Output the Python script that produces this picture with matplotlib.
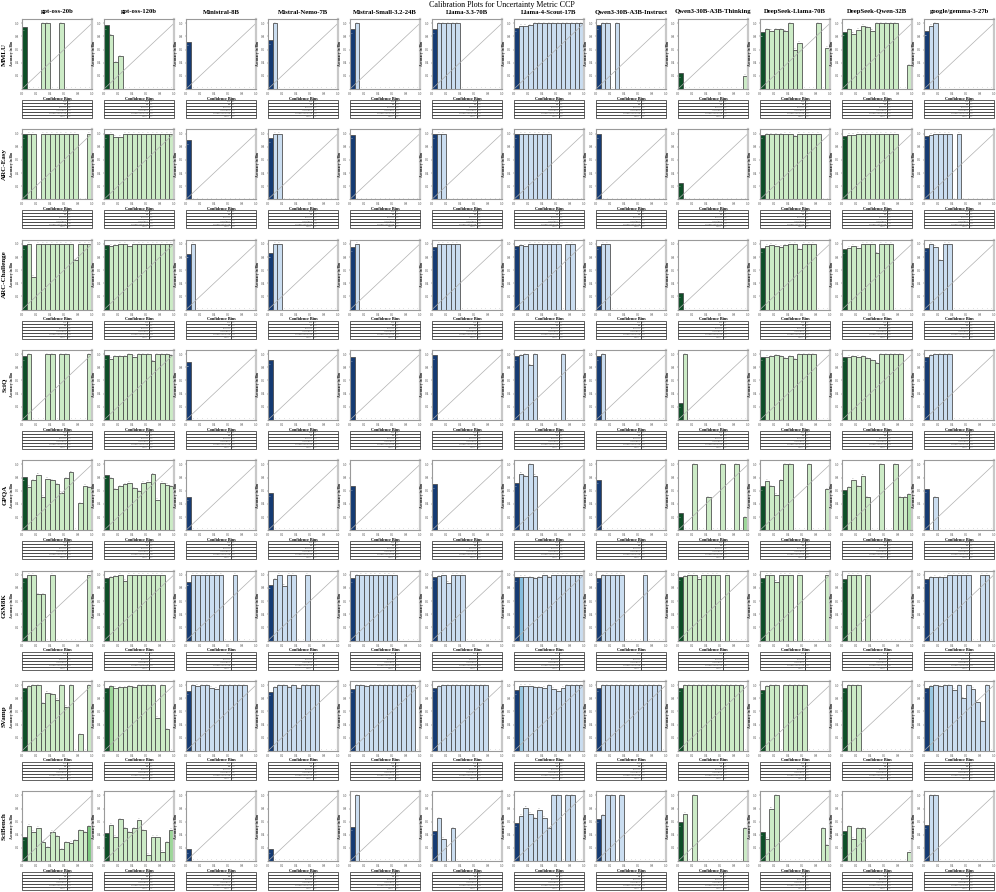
import numpy as np
import matplotlib
matplotlib.use("Agg")
import matplotlib.pyplot as plt
from matplotlib import cm

plt.rcParams['font.family'] = ['Liberation Serif', 'DejaVu Serif']

N = None

MODELS = ["gpt-oss-20b", "gpt-oss-120b", "Ministral-8B", "Mistral-Nemo-7B",
          "Mistral-Small-3.2-24B", "Llama-3.3-70B", "Llama-4-Scout-17B",
          "Qwen3-30B-A3B-Instruct", "Qwen3-30B-A3B-Thinking", "DeepSeek-Llama-70B",
          "DeepSeek-Qwen-32B", "google/gemma-3-27b"]
GREEN_MODELS = ["gpt-oss-20b", "gpt-oss-120b", "Qwen3-30B-A3B-Thinking",
                "DeepSeek-Llama-70B", "DeepSeek-Qwen-32B"]
DATASETS = ["MMLU", "ARC-Easy", "ARC-Challenge", "SciQ", "GPQA", "GSM8K", "SVamp", "SciBench"]

# accuracy per confidence bin (15 bins), None = empty bin
MMLU = [
    [0.95, N, N, N, 1.0, 1.0, N, N, 1.0, N, N, N, N, N, N],
    [0.97, 0.82, 0.41, 0.50, N, N, N, N, N, N, N, N, N, N, N],
    [0.72] + [N] * 14,
    [0.74, 1.0] + [N] * 13,
    [0.91, 1.0] + [N] * 13,
    [0.91, 1, 1, 1, 1, 1] + [N] * 9,
    [0.93, 0.96, 0.96, 0.97] + [1.0] * 11,
    [0.97, 1.0, 1.0, N, 1.0] + [N] * 10,
    [0.24] + [N] * 13 + [0.20],
    [0.86, 0.91, 0.89, 0.91, 0.91, 0.88, 1.0, 0.60, 0.70, N, N, N, 1.0, N, 0.63],
    [0.87, 0.91, 0.84, 0.90, 0.96, 0.94, 0.89, 1, 1, 1, 1, 1, N, N, 0.36],
    [0.88, 0.96, 1.0] + [N] * 12,
]
ARC_EASY = [
    [0.99, 1, 1, N, 1, 1, 1, 1, 1, 1, 1, 1, N, N, 1],
    [0.99, 1.0, 0.95, 0.95] + [1.0] * 11,
    [0.90] + [N] * 14,
    [0.93, 1, 1] + [N] * 12,
    [0.98] + [N] * 14,
    [0.99, 1, 1] + [N] * 12,
    [0.99] + [1.0] * 7 + [N] * 7,
    [0.99] + [N] * 14,
    [0.25] + [N] * 14,
    [0.98, 0.99, 0.99, 0.99, 0.99, 1, 1, 0.96, 1, 1, 1, 1, 1, N, N],
    [0.97, 0.98, 0.98] + [1.0] * 9 + [N] * 3,
    [0.97, 0.98, 1, 1, 1, 1, N, 1] + [N] * 7,
]
ARC_CHALLENGE = [
    [0.98, 1.0, 0.50] + [1.0] * 8 + [0.75, 1, 1, 1],
    [0.98, 0.97, 0.98, 1, 1, 0.97] + [1.0] * 9,
    [0.85, 1.0] + [N] * 13,
    [0.86, 1, 1] + [N] * 12,
    [0.95, 1] + [N] * 13,
    [0.96, 1, 1, 1, 1, 1] + [N] * 9,
    [0.97, 0.98, 0.97, 1, 1, 1, 1, 1, 1, 1, N, 1, 1, N, N],
    [0.97, 1, 1] + [N] * 12,
    [0.25] + [N] * 14,
    [0.93, 0.97, 0.99, 0.97, 0.96, 0.98, 1, 1, 0.92, 1, 1, 1, N, N, N],
    [0.92, 0.94, 0.97, 0.94, 1, 1, 1, 0.86, 1, 1, 1, N, N, N, N],
    [0.94, 1.0, 0.96, 0.75, 1, 1] + [N] * 9,
]
SCIQ = [
    [0.97, 1.0, N, N, N, 1, 1, N, 1, 1, N, N, N, N, 1],
    [0.98, 0.93, 0.97, 0.97, 0.97, 1.0, 0.96, 1, 1, 1, 0.89, 1, 1, 1, 0.98],
    [0.88] + [N] * 14,
    [0.91] + [N] * 14,
    [0.95] + [N] * 14,
    [0.98] + [N] * 14,
    [0.97, 0.98, 1.0, 0.83, 1.0, N, N, N, N, N, 1.0, N, N, N, N],
    [0.97, 1.0] + [N] * 13,
    [0.25, 1.0] + [N] * 13,
    [0.96, 0.96, 0.97, 0.98, 0.97, 0.94, 0.97, 0.92, 1, 1, 1, 1, N, N, N],
    [0.95, 0.96, 0.97, 0.96, 0.97, 0.94, 0.91, 0.86, 1, 1, 1, 1, 1, N, N],
    [0.95, 0.98, 1, 1, 1, 1] + [N] * 9,
]
GPQA = [
    [0.81, 0.66, 0.76, 0.84, 0.51, 0.78, 0.76, 0.70, 0.57, 0.79, 0.88, N, 0.41, 0.68, 0.65],
    [0.84, 0.79, 0.62, 0.67, 0.70, 0.72, 0.64, 0.59, 0.72, 0.74, 0.85, 0.46, 0.72, 0.69, 0.67],
    [0.51] + [N] * 14,
    [0.57] + [N] * 14,
    [0.67] + [N] * 14,
    [0.70] + [N] * 14,
    [0.72, 0.86, 0.82, 1.0, 0.83] + [N] * 10,
    [0.77] + [N] * 14,
    [0.26, N, N, 1.0, N, N, 0.50, N, N, 1.0, N, N, 1.0, N, 0.20],
    [0.67, 0.75, 0.67, 0.54, 0.76, 1.0, 1.0, N, N, N, 1.0, N, N, N, 0.62],
    [0.61, 0.65, 0.77, 0.67, 0.83, 0.50, N, N, 1.0, N, N, 1.0, 0.50, 0.50, 0.55],
    [0.63, N, 0.50] + [N] * 12,
]
GSM8K = [
    [0.95, 1, 1, 0.70, 0.70, N, 1.0, N, N, N, N, N, N, N, 1.0],
    [0.95, 0.96, 0.98, 1.0, 0.91] + [1.0] * 8 + [N, N],
    [0.89] + [1.0] * 7 + [N, N, 1.0] + [N] * 4,
    [0.85, 0.93, 1.0, 0.83, 1.0, 1.0, N, N, 1.0] + [N] * 6,
    [0.95, 0.99] + [1.0] * 8 + [N] * 5,
    [0.97, 0.98, 1.0, 0.88, 1.0, 1.0, 1.0] + [N] * 8,
    [0.96, 0.97, 0.97, 0.96, 0.95, 0.96, 1.0, 0.96] + [1.0] * 7,
    [0.95, 0.99, 1, 1, 1, 1, N, N, N, N, 1.0] + [N] * 4,
    [0.97, 0.98, 1, 1, 0.94, 1, 1, 1, 1, N, 1.0] + [N] * 4,
    [0.95, 1, 1, 0.89, 1, 1, 1, N, 1.0, N, N, N, N, N, 1.0],
    [0.94, 1, 1, 1, N, 1.0] + [N] * 9,
    [0.93, 0.96, 0.97, 0.96, 0.97, 1, 1, 1, 1, 1, N, N, 1, 1, N],
]
SVAMP = [
    [0.96, 0.98, 1, 1, 0.72, 0.88, 0.86, 0.78, 1.0, 0.67, 1.0, N, 0.25, N, 1.0],
    [0.95, 0.98, 0.96, 0.97, 0.97, 0.98, 0.97, 1, 1, 1, 1, 0.50, 1.0, 0.33, N],
    [0.91, 1.0, 0.99, 1, 1, 0.96, 0.94, 1, 1, 1, 1, 1, 1, N, N],
    [0.90, 0.97, 1, 1, 0.97, 1, 0.95, 1, 1, 1, 1, N, N, N, N],
    [0.94, 1, 1, 0.98] + [1.0] * 10 + [N],
    [0.96, 0.98] + [1.0] * 10 + [N] * 3,
    [0.92, 0.99, 0.99, 0.99, 0.97, 0.97, 0.96, 1.0, 0.94, 0.91, 0.96, 1, 1, 1, 1],
    [0.96] + [1.0] * 13 + [N],
    [0.96] + [1.0] * 13 + [N],
    [0.93, 0.98, 1, 1, N, 1, 1, 1, 1, 1, N, N, N, N, N],
    [0.95, 1, 1, 1] + [N] * 11,
    [0.95, 0.98, 1.0, 0.98, 1, 1, 0.93, 1, 0.80, 1, 0.94, 0.75, 0.45, 1.0, N],
]
SCIBENCH = [
    [0.37, 0.54, 0.45, 0.51, 0.29, 0.21, 0.45, 0.38, 0.18, 0.29, 0.28, 0.32, 0.47, 0.44, 0.53],
    [0.42, 0.55, 0.37, 0.64, 0.50, 0.44, 0.50, 0.63, 0.47, 0.10, 0.37, 0.37, 0.14, 0.29, 0.48],
    [0.18] + [N] * 14,
    [0.18] + [N] * 14,
    [0.52, 1.0] + [N] * 13,
    [0.46, 0.65, 0.34, N, 0.50] + [N] * 10,
    [0.58, 0.69, 0.81, 0.72, 0.65, 0.78, 0.66, 0.50, 1, 1, N, 1, 1, N, N],
    [0.64, 0.70, 1.0, 1.0, N, 1.0] + [N] * 9,
    [0.59, 0.72, N, 1.0] + [N] * 10 + [0.50],
    [0.45, 0.34, 0.80, 1.0] + [N] * 9 + [0.50, 0.24],
    [0.46, 0.53, 0.34, 0.50, 0.50] + [N] * 9 + [0.14],
    [0.55, 1, 1] + [N] * 12,
]
ALL = [MMLU, ARC_EASY, ARC_CHALLENGE, SCIQ, GPQA, GSM8K, SVAMP, SCIBENCH]

# colour intensity overrides for bins with more samples: (dataset, model, bin) -> level
SHADE = {
    (5, 6, 1): 0.45, (6, 6, 1): 0.40, (6, 11, 1): 0.40, (6, 1, 1): 0.40,
    (7, 0, 14): 0.50, (7, 1, 14): 0.40, (4, 8, 14): 0.40, (4, 10, 14): 0.35,
}
METRIC_NAMES = ["ECE", "MCE", "Brier Score", "Avg Confidence",
                "Over/Under Confidence Gap", "Accuracy"]

NB = 15
edges = np.arange(NB) / NB
centers = edges + 0.5 / NB


def metrics(acc):
    idx = [i for i, v in enumerate(acc) if v is not None]
    w = np.array([0.85 if i == 0 else 0.15 / max(len(idx) - 1, 1) for i in idx])
    w = w / w.sum()
    a = np.array([acc[i] for i in idx])
    cf = centers[idx]
    ece = np.sum(w * np.abs(a - cf))
    mce = np.max(np.abs(a - cf))
    brier = np.sum(w * (a * (1 - cf) ** 2 + (1 - a) * cf ** 2))
    conf = np.sum(w * cf)
    accm = np.sum(w * a)
    return [f"{ece:.4f}", f"{mce:.4f}", f"{brier:.4f}", f"{conf:.4f}",
            f"{conf - accm:.4f}", f"{accm:.4f}"]


W, H = 996, 892
fig = plt.figure(figsize=(W / 100, H / 100), dpi=100)
fig.text(502 / W, 1 - 5 / H, "Calibration Plots for Uncertainty Metric CCP",
         ha='center', va='center', fontsize=5.8)

AX_W, AX_H = 70, 70
for r, ds in enumerate(DATASETS):
    top = 19 + 110.3 * r
    for c, model in enumerate(MODELS):
        left = 22 + 82 * c
        ax = fig.add_axes([left / W, 1 - (top + AX_H) / H, AX_W / W, AX_H / H])
        acc = ALL[r][c]
        cmap = cm.Greens if model in GREEN_MODELS else cm.Blues
        for i, v in enumerate(acc):
            if v is None:
                ax.text(centers[i], 0.012, "0", fontsize=1.0, color='#777777',
                        ha='center', va='bottom')
                continue
            lvl = 1.0 if i == 0 else SHADE.get((r, c, i), 0.24)
            ax.bar(edges[i], v, width=1 / NB, align='edge', color=cmap(lvl),
                   edgecolor='#4a4a4a', linewidth=0.6, alpha=0.95)
            if i == 0:
                ax.text(centers[i], v - 0.06, f"{v:.2f}", fontsize=1.0,
                        color='white', ha='center', va='center')
            else:
                ax.text(centers[i], v + 0.008, f"{v:.2f}", fontsize=1.0,
                        color='#777777', ha='center', va='bottom')
        ax.plot([0, 1], [0, 1], color='#b0b0b0', lw=0.5)
        ax.set_xlim(0, 1)
        ax.set_ylim(0, 1.065)
        ax.set_xticks([0, 0.2, 0.4, 0.6, 0.8, 1.0])
        ax.set_yticks([0.2, 0.4, 0.6, 0.8, 1.0])
        ax.tick_params(labelsize=2.4, length=1.0, width=0.3, pad=1.2,
                       colors='#444444')
        ax.set_xlabel("Confidence Bins", fontsize=3.0, fontweight='bold', labelpad=0.4)
        ax.set_ylabel("Accuracy in Bin", fontsize=2.6, fontweight='bold', labelpad=0.8)
        for side, sp in ax.spines.items():
            sp.set_color('#9a9a9a')
            sp.set_linewidth(0.8)
        ax.spines['right'].set_color('#c8c8c8')
        ax.spines['right'].set_linewidth(1.6)
        if r == 0:
            fig.text((left + AX_W / 2) / W, 1 - 12 / H, model, ha='center',
                     va='center', fontsize=4.8, fontweight='bold')
        if c == 0:
            fig.text(4.5 / W, 1 - (top + AX_H / 2) / H, ds, ha='center', va='center',
                     rotation=90, fontsize=5.0, fontweight='bold')

        # metrics table
        tax = fig.add_axes([left / W, 1 - (top + AX_H + 11 + 18) / H, AX_W / W, 18 / H])
        tax.axis('off')
        vals = metrics(acc)
        tbl = tax.table(cellText=[[n, v] for n, v in zip(METRIC_NAMES, vals)],
                        bbox=[0, 0, 1, 1], colWidths=[0.64, 0.36])
        tbl.auto_set_font_size(False)
        for (ri, ci), cell in tbl.get_celld().items():
            cell.set_linewidth(0.5)
            cell.set_edgecolor('#222222')
            cell.get_text().set_fontsize(1.1)
            cell.get_text().set_color('#555555')
            cell.get_text().set_ha('right' if ci == 0 else 'left')
            cell.PAD = 0.02
        for sp in tax.spines.values():
            sp.set_visible(False)

fig.savefig("out.png", dpi=100)
